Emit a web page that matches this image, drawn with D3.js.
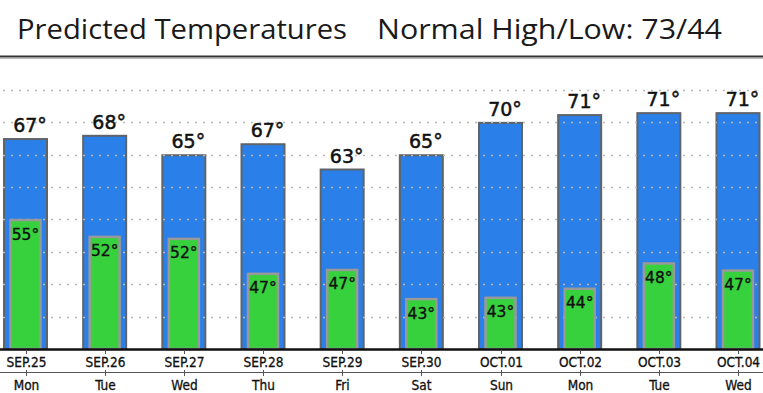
<!DOCTYPE html>
<html>
<head>
<meta charset="utf-8">
<script src="https://cdn.jsdelivr.net/npm/d3@7"></script>
<style>
  body { margin: 0; background: #fff; }
  svg { display: block; }
</style>
</head>
<body>
<div id="chart"></div>
<script>
const dates = ["SEP.25", "SEP.26", "SEP.27", "SEP.28", "SEP.29", "SEP.30", "OCT.01", "OCT.02", "OCT.03", "OCT.04"];
const days = ["Mon", "Tue", "Wed", "Thu", "Fri", "Sat", "Sun", "Mon", "Tue", "Wed"];
const highs = [67.4, 67.9, 64.9, 66.6, 62.7, 64.9, 69.9, 71.1, 71.4, 71.4];
const lows = [54.9, 52.3, 52.0, 46.6, 47.2, 42.7, 42.9, 44.3, 48.2, 47.1];
const gridValues = [40, 45, 50, 55, 60, 65, 70, 75];

const width = 763;
const height = 393;

const svg = d3.select("#chart").append("svg")
  .attr("width", width)
  .attr("height", height);

// title, two pieces
const titleParts = [
  { text: "Predicted Temperatures", x: 17, len: 330 },
  { text: "Normal High/Low: 73/44", x: 377, len: 345 }
];
svg.selectAll("text.title")
  .data(titleParts)
  .join("text")
  .attr("class", "title")
  .attr("x", d => d.x)
  .attr("y", 38.5)
  .attr("font-family", "Open Sans, sans-serif")
  .attr("font-size", 27)
  .attr("fill", "#1a1a1a")
  .attr("textLength", d => d.len)
  .attr("lengthAdjust", "spacingAndGlyphs")
  .text(d => d.text);

svg.append("line")
  .attr("x1", 0).attr("x2", width)
  .attr("y1", 56.5).attr("y2", 56.5)
  .attr("stroke", "#333").attr("stroke-width", 2);
svg.append("line")
  .attr("x1", 0).attr("x2", width)
  .attr("y1", 58.5).attr("y2", 58.5)
  .attr("stroke", "#bbb").attr("stroke-width", 1);

const x = d3.scalePoint().domain(dates).range([25.5, 738]);
const y = d3.scaleLinear().domain([35, 75]).range([349, 89.8]);

const hiW = 43;
const loW = 30;

// high bars
svg.selectAll("rect.hi")
  .data(highs)
  .join("rect")
  .attr("class", "hi")
  .attr("x", (d, i) => x(dates[i]) - hiW / 2)
  .attr("y", d => y(d))
  .attr("width", hiW)
  .attr("height", d => y(35) - y(d))
  .attr("fill", "#2a7fe8")
  .attr("stroke", "#5f6468")
  .attr("stroke-width", 2);

// dotted grid
svg.selectAll("line.grid")
  .data(gridValues)
  .join("line")
  .attr("class", "grid")
  .attr("x1", 3).attr("x2", width)
  .attr("y1", d => Math.round(y(d)) + 0.5)
  .attr("y2", d => Math.round(y(d)) + 0.5)
  .attr("stroke", "#b8b8b8")
  .attr("stroke-width", 1.6)
  .attr("stroke-dasharray", "2,6");

// low bars
svg.selectAll("rect.lo")
  .data(lows)
  .join("rect")
  .attr("class", "lo")
  .attr("x", (d, i) => x(dates[i]) - loW / 2)
  .attr("y", d => y(d))
  .attr("width", loW)
  .attr("height", d => y(35) - y(d))
  .attr("fill", "#38d13e")
  .attr("stroke", "#999")
  .attr("stroke-width", 2.5);

// labels
svg.selectAll("text.hi")
  .data(highs)
  .join("text")
  .attr("class", "hi")
  .attr("x", (d, i) => x(dates[i]) + 4.5)
  .attr("y", d => y(d) - 7)
  .attr("text-anchor", "middle")
  .attr("font-family", "DejaVu Sans, sans-serif")
  .attr("font-size", 19)
  .attr("fill", "#111")
  .attr("stroke", "#111")
  .attr("stroke-width", 0.5)
  .text(d => Math.round(d) + "°");

svg.selectAll("text.lo")
  .data(lows)
  .join("text")
  .attr("class", "lo")
  .attr("x", (d, i) => x(dates[i]))
  .attr("y", d => y(d) + 19.5)
  .attr("text-anchor", "middle")
  .attr("font-family", "DejaVu Sans, sans-serif")
  .attr("font-size", 15.5)
  .attr("fill", "#111")
  .attr("stroke", "#111")
  .attr("stroke-width", 0.4)
  .text(d => Math.round(d) + "°");

// axis
svg.append("line")
  .attr("x1", 0).attr("x2", width)
  .attr("y1", 349.5).attr("y2", 349.5)
  .attr("stroke", "#111").attr("stroke-width", 2.5);
svg.append("line")
  .attr("x1", 0).attr("x2", width)
  .attr("y1", 372.5).attr("y2", 372.5)
  .attr("stroke", "#555").attr("stroke-width", 1);

const ticks = svg.selectAll("g.tick")
  .data(dates)
  .join("g")
  .attr("class", "tick")
  .attr("transform", d => `translate(${Math.round(x(d)) + 0.5},0)`);
ticks.append("line")
  .attr("y1", 350).attr("y2", 354)
  .attr("stroke", "#555");
ticks.append("line")
  .attr("y1", 370).attr("y2", 376)
  .attr("stroke", "#555");
ticks.append("text")
  .attr("y", 367)
  .attr("text-anchor", "middle")
  .attr("font-family", "DejaVu Sans Condensed, DejaVu Sans, sans-serif")
  .attr("font-size", 13.5)
  .attr("fill", "#111")
  .attr("stroke", "#111")
  .attr("stroke-width", 0.3)
  .text(d => d);
ticks.append("text")
  .attr("y", 389.5)
  .attr("text-anchor", "middle")
  .attr("font-family", "DejaVu Sans Condensed, DejaVu Sans, sans-serif")
  .attr("font-size", 13.5)
  .attr("fill", "#111")
  .attr("stroke", "#111")
  .attr("stroke-width", 0.3)
  .text((d, i) => days[i]);
</script>
</body>
</html>
